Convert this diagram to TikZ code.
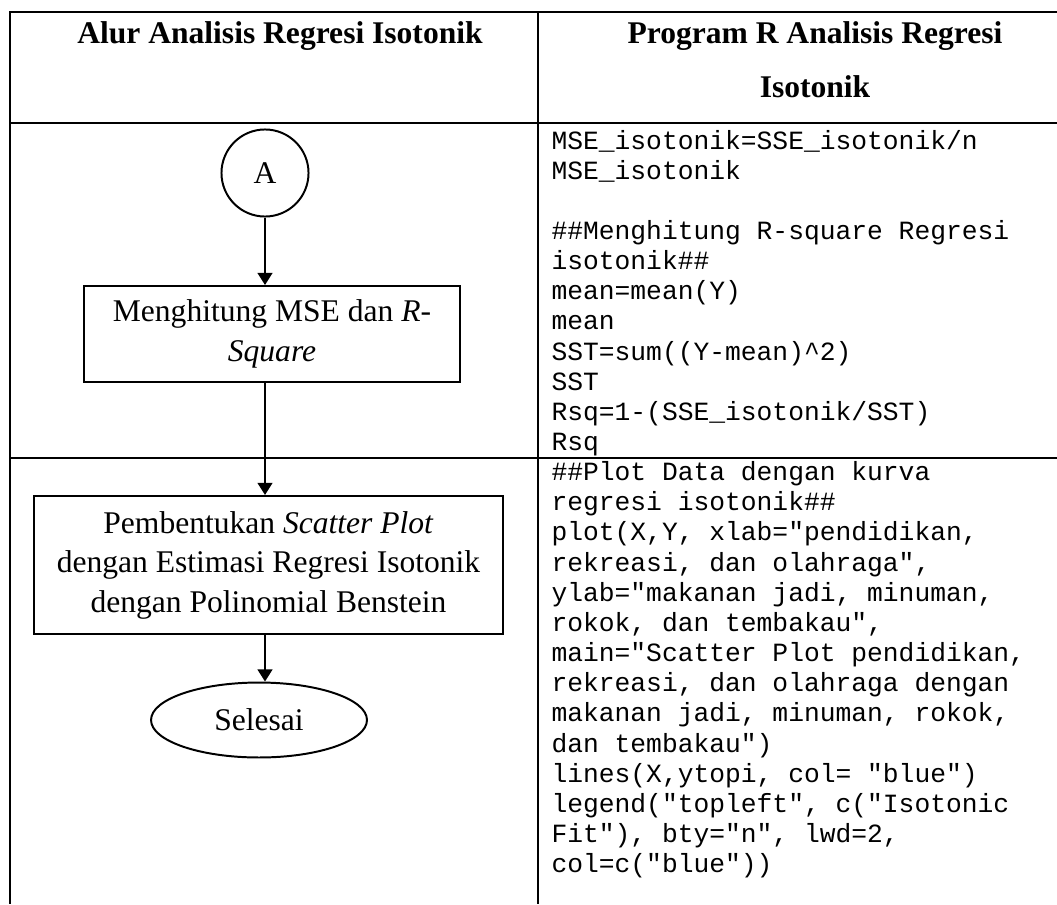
\documentclass[tikz,border=0pt]{standalone}
\usepackage{fontspec}
\setmainfont{Liberation Serif}
\setmonofont{Liberation Mono}
\usetikzlibrary{arrows.meta}
\usetikzlibrary{shapes.geometric}

\begin{document}
\begin{tikzpicture}[x=0.3802pt,y=-0.3802pt,
	rule/.style={line width=0.75pt},
	head/.style={font=\fontsize{12}{14}\selectfont\bfseries,anchor=base,inner sep=0pt},
	box/.style={shape=rectangle,draw,line width=0.75pt,align=center,inner sep=0pt,font=\fontsize{12}{15}\selectfont},
	circ/.style={shape=circle,draw,line width=0.75pt,minimum size=33.1pt,inner sep=0pt,font=\fontsize{12}{14}\selectfont},
	term/.style={shape=ellipse,draw,line width=0.75pt,minimum width=82.1pt,minimum height=28.5pt,inner sep=0pt,font=\fontsize{12}{14}\selectfont},
	flow/.style={-{Triangle[length=4.6pt,width=5.6pt]},line width=0.75pt},
	code/.style={font=\ttfamily\fontsize{10}{11.4}\selectfont,anchor=base west,inner sep=0pt}]
	\useasboundingbox (0,0) rectangle (1057,904);
	% table frame
	\draw [rule] (1057,12) -- (10,12) -- (10,904);
	\draw [rule] (538,12) -- (538,904);
	\draw [rule] (10,123) -- (1057,123);
	\draw [rule] (10,458) -- (1057,458);
	% header
	\draw (280,43) node (hL) [head] {Alur Analisis Regresi Isotonik};
	\draw (815,43) node (hR) [head] {Program R Analisis Regresi};
	\draw (815,97) node (hR2) [head] {Isotonik};
	% flowchart
	\draw (265,173) node (A) [circ] {A};
	\draw (272,334) node (mse) [box,minimum width=142.6pt,minimum height=36.5pt] {Menghitung MSE dan \textit{R}-\\\textit{Square}};
	\draw (268.5,565) node (scatter) [box,minimum width=178.3pt,minimum height=52.5pt] {Pembentukan \textit{Scatter Plot}\\dengan Estimasi Regresi Isotonik\\dengan Polinomial Benstein};
	\draw (259,720) node (done) [term] {Selesai};
	\draw [flow] (A) -- (A |- mse.north);
	\draw [flow] (A |- mse.south) -- (A |- scatter.north);
	\draw [flow] (A |- scatter.south) -- (A |- done.north);
	% R program
	\foreach \txt [count=\i] in {
		{MSE\_isotonik=SSE\_isotonik/n},
		{MSE\_isotonik},
		{},
		{\#\#Menghitung R-square Regresi},
		{isotonik\#\#},
		{mean=mean(Y)},
		{mean},
		{SST=sum((Y-mean)\textasciicircum2)},
		{SST},
		{Rsq=1-(SSE\_isotonik/SST)},
		{Rsq},
		{\#\#Plot Data dengan kurva},
		{regresi isotonik\#\#},
		{plot(X,Y, xlab="pendidikan,},
		{rekreasi, dan olahraga",},
		{ylab="makanan jadi, minuman,},
		{rokok, dan tembakau",},
		{main="Scatter Plot pendidikan,},
		{rekreasi, dan olahraga dengan},
		{makanan jadi, minuman, rokok,},
		{dan tembakau")},
		{lines(X,ytopi, col= "blue")},
		{legend("topleft", c("Isotonic},
		{Fit"), bty="n", lwd=2,},
		{col=c("blue"))}} {
		\draw (551,{149+30.15*(\i-1)}) node (c\i) [code] {\txt};
	}
\end{tikzpicture}
\end{document}
